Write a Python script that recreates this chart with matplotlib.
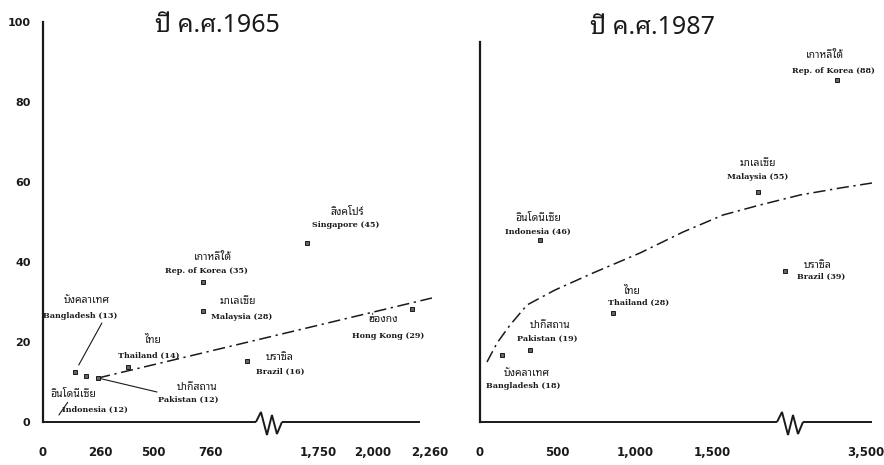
import numpy as np
import matplotlib
matplotlib.use("Agg")
import matplotlib.pyplot as plt
import matplotlib.transforms as mtransforms
from matplotlib import font_manager
from matplotlib.ft2font import FT2Font

# ---------------- data ----------------
y_ticks = [0, 20, 40, 60, 80, 100]

# 1965 panel
x65_ticks = [0, 260, 500, 760, 1750, 2000, 2260]
x65_ticklabels = ["0", "260", "500", "760", "1,750", "2,000", "2,260"]
c65_thai = ["บังคลาเทศ", "อินโดนีเซีย", "ปากีสถาน", "ไทย", "เกาหลีใต้",
            "มาเลเซีย", "บราซิล", "สิงคโปร์", "ฮ่องกง"]
c65_eng = ["Bangladesh (13)", "Indonesia (12)", "Pakistan (12)", "Thailand (14)",
           "Rep. of Korea (35)", "Malaysia (28)", "Brazil (16)", "Singapore (45)",
           "Hong Kong (29)"]
x65 = [145, 195, 250, 386, 727, 727, 927, 1600, 2177]
y65 = [12.5, 11.5, 11, 13.75, 35, 27.75, 15.25, 44.75, 28.25]
trend65_x = [250, 2268]
trend65_y = [11, 31]

# 1987 panel
x87_ticks = [0, 500, 1000, 1500, 3500]
x87_ticklabels = ["0", "500", "1,000", "1,500", "3,500"]
c87_thai = ["บังคลาเทศ", "ปากีสถาน", "อินโดนีเซีย", "ไทย", "มาเลเซีย", "บราซิล", "เกาหลีใต้"]
c87_eng = ["Bangladesh (18)", "Pakistan (19)", "Indonesia (46)", "Thailand (28)",
           "Malaysia (55)", "Brazil (39)", "Rep. of Korea (88)"]
x87 = [142, 323, 387, 858, 1794, 1968, 3313]
y87 = [16.75, 18, 45.5, 27.25, 57.5, 37.75, 85.5]
trend87_x = [45, 110, 194, 303, 484, 729, 1032, 1310, 1568, 1806, 2128, 3333, 3539]
trend87_y = [15, 19.75, 24.25, 29.25, 33, 37.25, 42.25, 47.5, 51.75, 54.25, 56.75, 58.5, 59.75]

titles = ["ปี ค.ศ.1965", "ปี ค.ศ.1987"]

# ---------------- layout / style ----------------
W, H = 884, 465
ink = "#1a1a1a"

# label offsets (pixels, relative to marker)
off65_thai = [(12, 72), (-13, -18), (99, -9), (25, 27), (10, 24), (35, 10), (33, 4), (40, 31), (-29, -11)]
off65_eng = [(5, 56), (9, -34), (90, -22), (21, 11), (3, 11), (39, -6), (33, -11), (39, 18), (-24, -27)]
off87_thai = [(25, -18), (20, 25), (-2, 22), (19, 21), (0, 29), (33, 6), (-12, 24)]
off87_eng = [(21, -31), (17, 11), (-2, 8), (26, 10), (0, 15), (36, -6), (-4, 9)]

# leader lines for 1965 (index, start offset px, shrink at marker px)
leaders65 = [(0, (27, 49), 8), (2, (59, -14), 2), (1, (-27, -39), 32)]

zigzag_px = [(-13, 0), (-8, 10), (-2, -13), (3, 7), (8, -12), (13, 0)]


def pick_font(prefs):
    names = {f.name for f in font_manager.fontManager.ttflist}
    for p in prefs:
        if p in names:
            return p
    for f in font_manager.fontManager.ttflist:
        try:
            if 0x0E1B in FT2Font(f.fname).get_charmap():
                return f.name
        except Exception:
            pass
    return "DejaVu Sans"


thai_label = pick_font(["Noto Sans Thai Looped", "Sarabun", "Noto Serif Thai", "Noto Sans Thai"])
thai_title = pick_font(["Noto Sans Thai Looped", "Sarabun", "Noto Sans Thai"])
thai_fam = [thai_label, "DejaVu Sans"]
title_fam = [thai_title, "DejaVu Sans"]
eng_fam = ["DejaVu Serif"]


def make_scale(xs, ts):
    xs = np.asarray(xs, float)
    ts = np.asarray(ts, float)
    return (lambda x: np.interp(x, xs, ts)), (lambda t: np.interp(t, ts, xs))


fwd65, inv65 = make_scale([-1000, 0, 1000, 1750, 10000], [-1000, 0, 1000, 1250, 9500])
fwd87, inv87 = make_scale([-1000, 0, 2050, 3300, 10000], [-1000, 0, 2050, 2290, 8990])

fig = plt.figure(figsize=(W / 100, H / 100), dpi=100)
fig.patch.set_facecolor("white")

ppu65 = 0.22
ppu87 = 0.155
ax1 = fig.add_axes([43 / W, 43 / H, 402 / W, 400 / H])
ax2 = fig.add_axes([480 / W, 43 / H, 404 / W, 400 / H])
for ax in (ax1, ax2):
    ax.patch.set_alpha(0)
    ax.set_ylim(0, 100)
    for s in ("top", "right", "bottom"):
        ax.spines[s].set_visible(False)
    ax.spines["left"].set_linewidth(1.6)
    ax.spines["left"].set_color(ink)
    ax.tick_params(length=0, colors=ink)

ax1.set_xscale("function", functions=(fwd65, inv65))
ax1.set_xlim(0, inv65(402 / ppu65))
ax2.set_xscale("function", functions=(fwd87, inv87))
ax2.set_xlim(0, inv87(404 / ppu87))
ax1.spines["left"].set_bounds(0, 100)
ax2.spines["left"].set_bounds(0, 95)

ax1.set_yticks(y_ticks)
ax1.set_yticklabels([str(v) for v in y_ticks], fontsize=8, fontweight="bold", color=ink)
ax1.tick_params(axis="y", pad=9)
ax2.set_yticks([])

for ax, ticks, labels in ((ax1, x65_ticks, x65_ticklabels), (ax2, x87_ticks, x87_ticklabels)):
    ax.set_xticks(ticks)
    ax.set_xticklabels(labels, fontsize=8.5, fontweight="bold", color=ink)
    ax.tick_params(axis="x", pad=17)
    ax.xaxis.set_minor_locator(matplotlib.ticker.NullLocator())


def axis_with_break(ax, fwd, inv, ppu, brk, xend):
    tb = fwd(brk)
    lo = inv(tb - 13 / ppu)
    hi = inv(tb + 13 / ppu)
    kw = dict(color=ink, lw=1.4, clip_on=False, solid_capstyle="butt", solid_joinstyle="miter")
    ax.plot([0, lo], [0, 0], **kw)
    ax.plot([hi, xend], [0, 0], **kw)
    zz = np.array(zigzag_px, float) / 100.0
    tr = fig.dpi_scale_trans + mtransforms.ScaledTranslation(brk, 0, ax.transData)
    ax.plot(zz[:, 0], zz[:, 1], transform=tr, **kw)


axis_with_break(ax1, fwd65, inv65, ppu65, 1081, 2214)
axis_with_break(ax2, fwd87, inv87, ppu87, 2000, 3539)

# trend lines
ax1.plot(trend65_x, trend65_y, color=ink, lw=1.1, dashes=(8, 3, 1.5, 3), clip_on=False)
ax2.plot(trend87_x, trend87_y, color=ink, lw=1.1, dashes=(8, 3, 1.5, 3), clip_on=False)

# markers
for ax, xs, ys in ((ax1, x65, y65), (ax2, x87, y87)):
    ax.plot(xs, ys, ls="none", marker="s", ms=3.3, mfc="#666666", mec=ink, mew=0.7,
            zorder=5, clip_on=False)


def labels(ax, xs, ys, th, en, oth, oen):
    for x, y, t, e, o1, o2 in zip(xs, ys, th, en, oth, oen):
        ax.annotate(t, (x, y), xytext=o1, textcoords="offset pixels", ha="center", va="center",
                    fontsize=7.5, family=thai_fam, fontweight="bold", color=ink,
                    annotation_clip=False)
        ax.annotate(e, (x, y), xytext=o2, textcoords="offset pixels", ha="center", va="center",
                    fontsize=5.8, family=eng_fam, fontweight="bold", color=ink,
                    annotation_clip=False)


labels(ax1, x65, y65, c65_thai, c65_eng, off65_thai, off65_eng)
labels(ax2, x87, y87, c87_thai, c87_eng, off87_thai, off87_eng)

for i, start, shrink in leaders65:
    ax1.annotate("", (x65[i], y65[i]), xytext=start, textcoords="offset pixels",
                 arrowprops=dict(arrowstyle="-", color=ink, lw=0.8, shrinkA=0,
                                 shrinkB=shrink * 0.72),
                 annotation_clip=False)

# titles
fig.text(217 / W, 1 - 25 / H, titles[0], ha="center", va="center", fontsize=18,
         family=title_fam, fontweight="medium", color=ink)
fig.text(653 / W, 1 - 27 / H, titles[1], ha="center", va="center", fontsize=18,
         family=title_fam, fontweight="medium", color=ink)

fig.savefig("out.png", dpi=100, facecolor="white")
